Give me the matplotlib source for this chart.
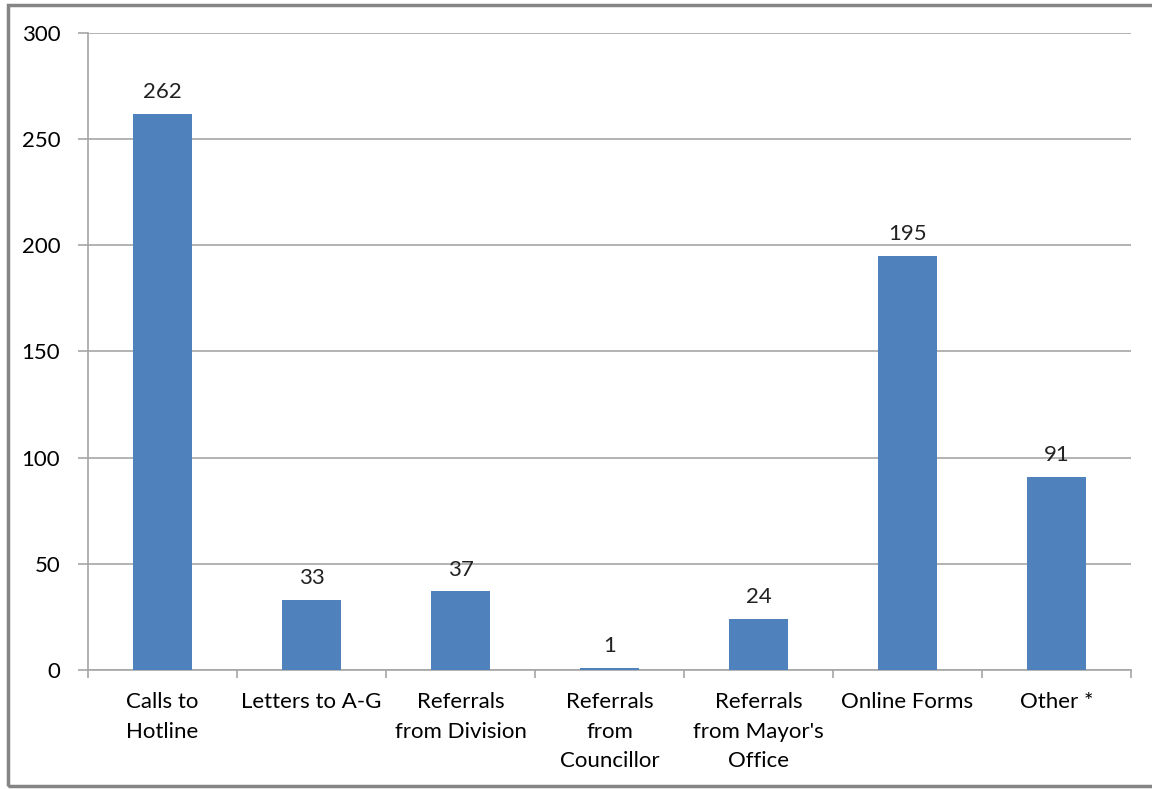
import matplotlib
matplotlib.use('Agg')
import matplotlib.pyplot as plt
from matplotlib.patches import Rectangle

plt.rcParams['font.family'] = ['Lato', 'DejaVu Sans']

categories = ['Calls to\nHotline', 'Letters to A-G', 'Referrals\nfrom Division',
              'Referrals\nfrom\nCouncillor', "Referrals\nfrom Mayor's\nOffice",
              'Online Forms', 'Other *']
values = [262, 33, 37, 1, 24, 195, 91]

fig = plt.figure(figsize=(11.52, 7.89), dpi=100)
ax = fig.add_axes([0.0764, 0.1508, 0.9054, 0.8074])

x = list(range(len(categories)))
bars = ax.bar(x, values, width=0.4, color='#4F81BD', zorder=3)

for bar, v in zip(bars, values):
    ax.text(bar.get_x() + bar.get_width() / 2, v + 5.5, str(v),
            ha='center', va='bottom', fontsize=16, color='#222222')

ax.set_xlim(-0.5, len(categories) - 0.5)
ax.set_ylim(0, 300)
ax.set_yticks(range(0, 301, 50))
ax.yaxis.grid(True, color='#A6A6A6', linewidth=1.2, zorder=0)

ax.set_xticks(x)
ax.set_xticklabels(categories, fontsize=16, linespacing=1.6, va='top')
ax.set_xticks([i - 0.5 for i in range(len(categories) + 1)], minor=True)
ax.tick_params(axis='x', which='major', length=0, pad=16)
ax.tick_params(axis='x', which='minor', length=6, color='#A6A6A6', width=1.2)
ax.tick_params(axis='y', length=7, color='#A6A6A6', width=1.2, labelsize=16, pad=13)

for side in ['top', 'right']:
    ax.spines[side].set_visible(False)
for side in ['left', 'bottom']:
    ax.spines[side].set_color('#A6A6A6')
    ax.spines[side].set_linewidth(1.2)

# outer frame of the chart area
fig.patches.append(Rectangle((8 / 1152, 3 / 789), 1.0, 781 / 789, transform=fig.transFigure,
                             fill=False, edgecolor='#858585', linewidth=2.5))

fig.savefig('out.png', dpi=100)
